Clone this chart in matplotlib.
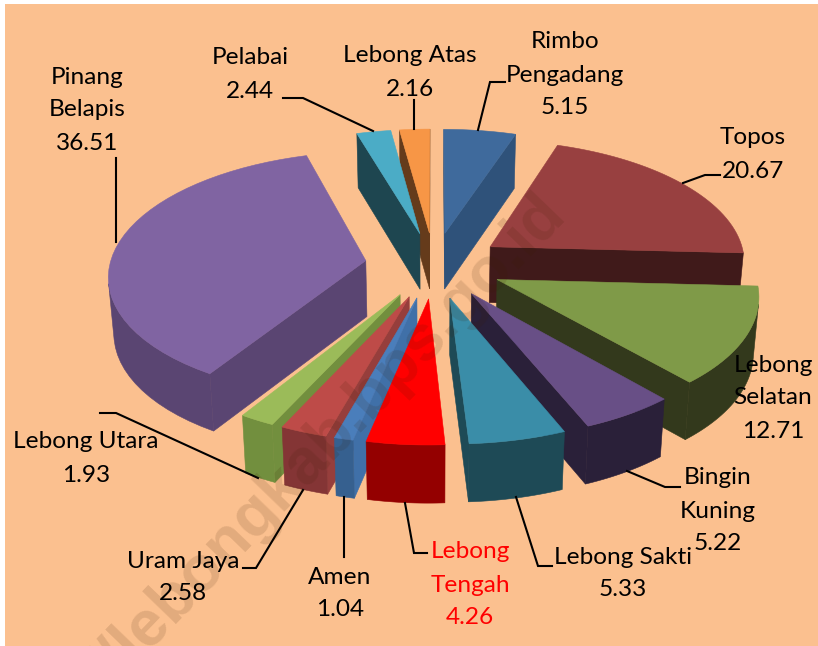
import numpy as np
import matplotlib
matplotlib.use("Agg")
import matplotlib.pyplot as plt
from matplotlib.patches import Polygon, Rectangle

names = ["Rimbo\nPengadang", "Topos", "Lebong\nSelatan", "Bingin\nKuning", "Lebong Sakti",
         "Lebong\nTengah", "Amen", "Uram Jaya", "Lebong Utara", "Pinang\nBelapis",
         "Pelabai", "Lebong Atas"]
values = [5.15, 20.67, 12.71, 5.22, 5.33, 4.26, 1.04, 2.58, 1.93, 36.51, 2.44, 2.16]

top_colors = ["#3F6A9C", "#984040", "#7F9A48", "#684F86", "#3A8DA8", "#FF0000",
              "#4A7EBB", "#BE4B48", "#9BBB59", "#8064A2", "#4BACC6", "#F79646"]
cut_colors = ["#2F527A", "#401A1A", "#33391C", "#2A2039", "#1E4A56", "#9A0000",
              "#4070A8", "#963E3C", "#728F3E", "#5A4572", "#1E4650", "#653B1B"]
wall_colors = ["#2F527A", "#401A1A", "#33391C", "#2A2039", "#1E4A56", "#940000",
               "#36608F", "#843535", "#728F3E", "#5A4572", "#1E4650", "#653B1B"]

# label anchor (centre x, first line centre y)
label_x = [565, 753, 773, 718, 623, 470, 340, 183, 86, 87, 250, 410]
label_y = [42, 138, 365, 478, 557, 552, 577, 561, 442, 77, 58, 56]
label_colors = ["black"] * 5 + ["#FF0000"] + ["black"] * 6

leaders = [
    [(505, 82), (490, 82), (478, 130)],
    [(720, 175), (705, 175), (683, 183)],
    [(680, 487), (665, 487), (627, 471)],
    [(552, 566), (538, 566), (516, 497)],
    [(427, 553), (414, 553), (405, 503)],
    [(344, 557), (344, 497)],
    [(243, 568), (256, 568), (303, 490)],
    [(100, 413), (116, 413), (258, 478)],
    [(116, 158), (116, 242)],
    [(283, 98), (303, 98), (373, 131)],
    [(414, 100), (414, 129)],
]

CX, CY = 434, 265
A, B = 256, 122
PERSP = 0.11
EXPLODE = 0.27
DEPTH = 56
SHRINK = 0.983
LINE_H = 33


def project(u, v):
    w = 1 + PERSP * v
    return CX + A * u / w, CY - B * v / w, w


def bottom(u, v):
    x, y, w = project(u, v)
    return CX + (x - CX) * SHRINK, y + DEPTH / w ** 0.25


def faces_viewer(a, b, c, d):
    pts = np.array([a, b, c, d])
    x, y = pts[:, 0], pts[:, 1]
    return np.dot(x, np.roll(y, -1)) - np.dot(y, np.roll(x, -1)) < 0


def draw_slice(ax, start, end, top_c, cut_c, wall_c):
    mid = (start + end) / 2
    ou, ov = EXPLODE * np.sin(mid), EXPLODE * np.cos(mid)
    th = np.linspace(start, end, 40)
    us = [ou] + list(ou + np.sin(th)) + [ou]
    vs = [ov] + list(ov + np.cos(th)) + [ov]
    tops = [project(u, v)[:2] for u, v in zip(us, vs)]
    bots = [bottom(u, v) for u, v in zip(us, vs)]
    n = len(tops) - 1

    # the two cut faces
    for i in (0, n - 1):
        if faces_viewer(tops[i], tops[i + 1], bots[i + 1], bots[i]):
            quad = [tops[i], tops[i + 1], bots[i + 1], bots[i]]
            ax.add_patch(Polygon(quad, closed=True, fc=cut_c, ec=cut_c, lw=0.4, zorder=2))

    # outer wall, one polygon for the part turned to the viewer
    keep = [i for i in range(1, n - 1) if faces_viewer(tops[i], tops[i + 1], bots[i + 1], bots[i])]
    if keep:
        idx = list(range(keep[0], keep[-1] + 2))
        wall = [tops[i] for i in idx] + [bots[i] for i in reversed(idx)]
        ax.add_patch(Polygon(wall, closed=True, fc=wall_c, ec=wall_c, lw=0.4, zorder=2))

    ax.add_patch(Polygon(tops, closed=True, fc=top_c, ec=top_c, lw=0.4, zorder=2))


fig = plt.figure(figsize=(8.18, 6.46), dpi=100, facecolor="white")
ax = fig.add_axes([0, 0, 1, 1])
ax.set_xlim(0, 818)
ax.set_ylim(646, 0)
ax.axis("off")
ax.add_patch(Rectangle((5, 4), 813, 642, fc="#FBC08F", ec="none", zorder=0))

frac = np.cumsum([0] + values) / sum(values) * 2 * np.pi
mids = (frac[:-1] + frac[1:]) / 2
# paint from the back of the pie to the front
order = sorted(range(len(values)), key=lambda k: np.cos(mids[k]), reverse=True)
for k in order:
    draw_slice(ax, frac[k], frac[k + 1], top_colors[k], cut_colors[k], wall_colors[k])

for pts in leaders:
    ax.plot([p[0] for p in pts], [p[1] for p in pts], color="black", lw=1.5, zorder=3,
            solid_joinstyle="miter")

for k in range(len(values)):
    lines = names[k].split("\n") + ["%.2f" % values[k]]
    for j, line in enumerate(lines):
        ax.text(label_x[k], label_y[k] + j * LINE_H, line, color=label_colors[k], family="Lato",
                fontsize=17.6, ha="center", va="center", zorder=5)

ax.text(328, 442, "//lebongkab.bps.go.id", rotation=46, rotation_mode="anchor", family="Liberation Sans",
        fontsize=46, fontweight="bold", color="#3A1A00", alpha=0.13, ha="center", va="center", zorder=4,
        clip_on=True)

fig.savefig("out.png", dpi=100)
